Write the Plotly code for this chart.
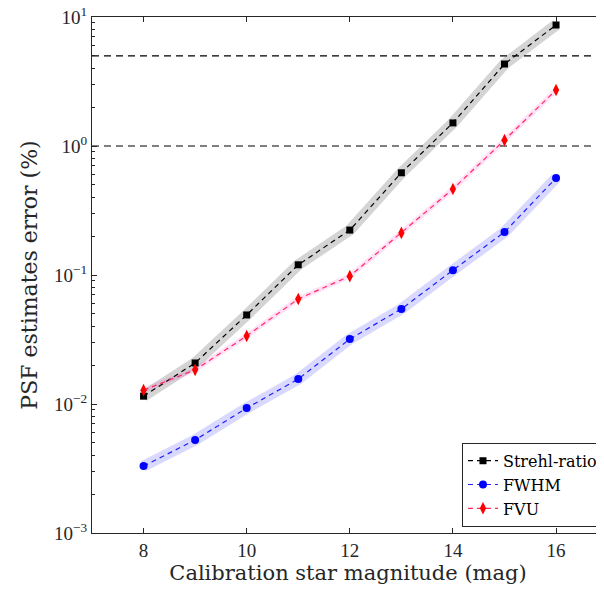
import plotly.graph_objects as go

mag = [8, 9, 10, 11, 12, 13, 14, 15, 16]
strehl = [0.0115, 0.0208, 0.049, 0.12, 0.223, 0.62, 1.51, 4.32, 8.67]
fwhm = [0.0033, 0.00526, 0.0093, 0.0156, 0.0319, 0.0545, 0.109, 0.215, 0.565]
fvu = [0.0128, 0.0184, 0.0337, 0.0652, 0.098, 0.212, 0.464, 1.11, 2.72]
thresholds = [1.0, 5.0]

ytick_vals = [1e-3, 1e-2, 1e-1, 1e0, 1e1]
ytick_text = ["10<sup>−3</sup>", "10<sup>−2</sup>", "10<sup>−1</sup>", "10<sup>0</sup>", "10<sup>1</sup>"]
minor_vals = [m * 10 ** e for e in range(-3, 1) for m in range(2, 10)]

TFONT = "Liberation Serif"
SFONT = "DejaVu Serif"
fig = go.Figure()

# shaded uncertainty bands (thick translucent lines)
for ys, col, w in [(strehl, "rgba(0,0,0,0.17)", 11), (fwhm, "rgba(0,0,255,0.15)", 11), (fvu, "rgba(255,0,200,0.12)", 5)]:
    fig.add_trace(go.Scatter(x=mag, y=ys, mode="lines", line=dict(color=col, width=w),
                             showlegend=False, hoverinfo="skip"))

for t in thresholds:
    fig.add_trace(go.Scatter(x=[7, 17], y=[t, t], mode="lines",
                             line=dict(color="black", width=1.2, dash="7px,5px"),
                             showlegend=False, hoverinfo="skip"))

fig.add_trace(go.Scatter(x=mag, y=strehl, mode="lines+markers", name="Strehl-ratio",
                         line=dict(color="black", width=1.2, dash="5px,4px"),
                         marker=dict(symbol="square", size=7, color="black")))
fig.add_trace(go.Scatter(x=mag, y=fwhm, mode="lines+markers", name="FWHM",
                         line=dict(color="#2020ff", width=1.2, dash="5px,4px"),
                         marker=dict(symbol="circle", size=8, color="blue")))
fig.add_trace(go.Scatter(x=mag, y=fvu, mode="lines+markers", name="FVU",
                         line=dict(color="#ff2a5a", width=1.2, dash="5px,4px"),
                         marker=dict(symbol="diamond-tall", size=9, color="red")))

# the page body has an 8px margin, so the figure is sized/offset to compensate
fig.update_layout(
    width=596, height=591,
    margin=dict(l=84, r=0, t=9, b=66),
    plot_bgcolor="white", paper_bgcolor="white",
    font=dict(family=TFONT, size=19, color="#262626"),
    showlegend=True,
    legend=dict(x=0.998, xanchor="right", y=0.012, yanchor="bottom",
                bordercolor="#262626", borderwidth=1, bgcolor="white",
                font=dict(family=SFONT, size=16, color="black"),
                itemwidth=30, tracegroupgap=0),
    xaxis=dict(range=[7, 16.93], tickvals=[8, 10, 12, 14, 16], ticks="inside", ticklen=5,
               tickcolor="#262626", showline=True, linecolor="#262626", linewidth=1,
               mirror="ticks", showgrid=False, zeroline=False, automargin=False,
               title=dict(text="Calibration star magnitude (mag)", standoff=3,
                          font=dict(family=SFONT, size=21, color="#262626"))),
    yaxis=dict(type="log", range=[-3, 1], tickvals=ytick_vals, ticktext=ytick_text,
               ticks="inside", ticklen=5, tickcolor="#262626", ticklabeloverflow="allow",
               showline=True, linecolor="#262626", linewidth=1, mirror=False,
               showgrid=False, zeroline=False, automargin=False,
               minor=dict(tickvals=minor_vals, ticks="inside", ticklen=3, tickcolor="#262626"),
               title=dict(text="PSF estimates error (%)", standoff=10,
                          font=dict(family=SFONT, size=22, color="#262626"))),
)

fig.write_html("out.html")
